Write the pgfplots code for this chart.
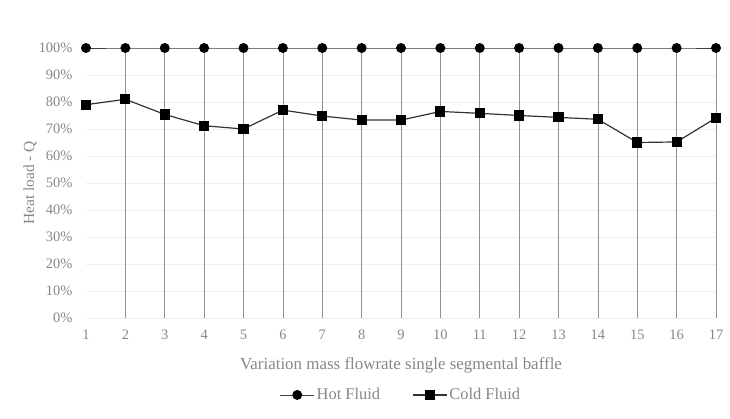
\documentclass[border=0pt]{standalone}
\usepackage{pgfplots}
\pgfplotsset{compat=1.18}
\usepackage{fontspec}
\setmainfont{Liberation Serif}
\definecolor{txt}{gray}{0.53}
\begin{document}
\begin{tikzpicture}
\begin{axis}[
  scale only axis, width=630bp, height=270bp,
  xmin=1, xmax=17, ymin=0, ymax=100,
  clip=false,
  axis line style={draw=none},
  xtick={1,...,17}, ytick={0,10,...,100},
  major tick length=0pt,
  ymajorgrids, grid style={gray!13, line width=0.5pt},
  yticklabel={\pgfmathprintnumber{\tick}\%},
  /pgf/number format/assume math mode=true,
  tick label style={font=\fontsize{14.5}{16}\selectfont, text=txt},
  xticklabel style={anchor=center, yshift=-17bp},
  yticklabel style={anchor=east, xshift=-10bp},
  xlabel={Variation mass flowrate single segmental baffle},
  ylabel={Heat load - Q},
  label style={font=\fontsize{15.5}{18}\selectfont, text=txt},
  xlabel style={at={(axis description cs:0.5,-0.174)}, anchor=center, font=\fontsize{17}{19}\selectfont},
  ylabel style={at={(axis description cs:-0.0889,0.5)}, anchor=center, rotate=0},
  legend style={at={(0.5,-0.285)}, anchor=center, draw=none, legend columns=2,
    font=\fontsize{16.5}{18}\selectfont, text=txt,
    /tikz/every even column/.append style={column sep=30bp}},
  legend cell align=left,
  legend image code/.code={%
    \draw[mark repeat=2,mark phase=2,#1] plot coordinates {(0bp,0bp)(17bp,0bp)(34bp,0bp)};},
]
\addplot[ycomb, gray!85, line width=0.6pt, no marks, forget plot] coordinates {
(2,100)(3,100)(4,100)(5,100)(6,100)(7,100)(8,100)(9,100)(10,100)(11,100)(12,100)(13,100)(14,100)(15,100)(16,100)(17,100)};
\addplot[black!75, line width=0.9pt, mark=*, mark size=4.5bp, mark options={fill=black, draw=black}] coordinates {
(1,100)(2,100)(3,100)(4,100)(5,100)(6,100)(7,100)(8,100)(9,100)(10,100)(11,100)(12,100)(13,100)(14,100)(15,100)(16,100)(17,100)};
\addlegendentry{Hot Fluid}
\addplot[black!80, line width=1.2pt, mark=square*, mark size=4.5bp, mark options={fill=black, draw=black}] coordinates {
(1,79.0)(2,81.0)(3,75.4)(4,71.2)(5,70.0)(6,77.0)(7,74.8)(8,73.3)(9,73.3)(10,76.5)(11,75.8)(12,75.0)(13,74.3)(14,73.6)(15,65.0)(16,65.2)(17,74.1)};
\addlegendentry{Cold Fluid}
\end{axis}
\pgfresetboundingbox
\useasboundingbox (-86bp,-101bp) rectangle (644bp,318bp);
\end{tikzpicture}
\end{document}
